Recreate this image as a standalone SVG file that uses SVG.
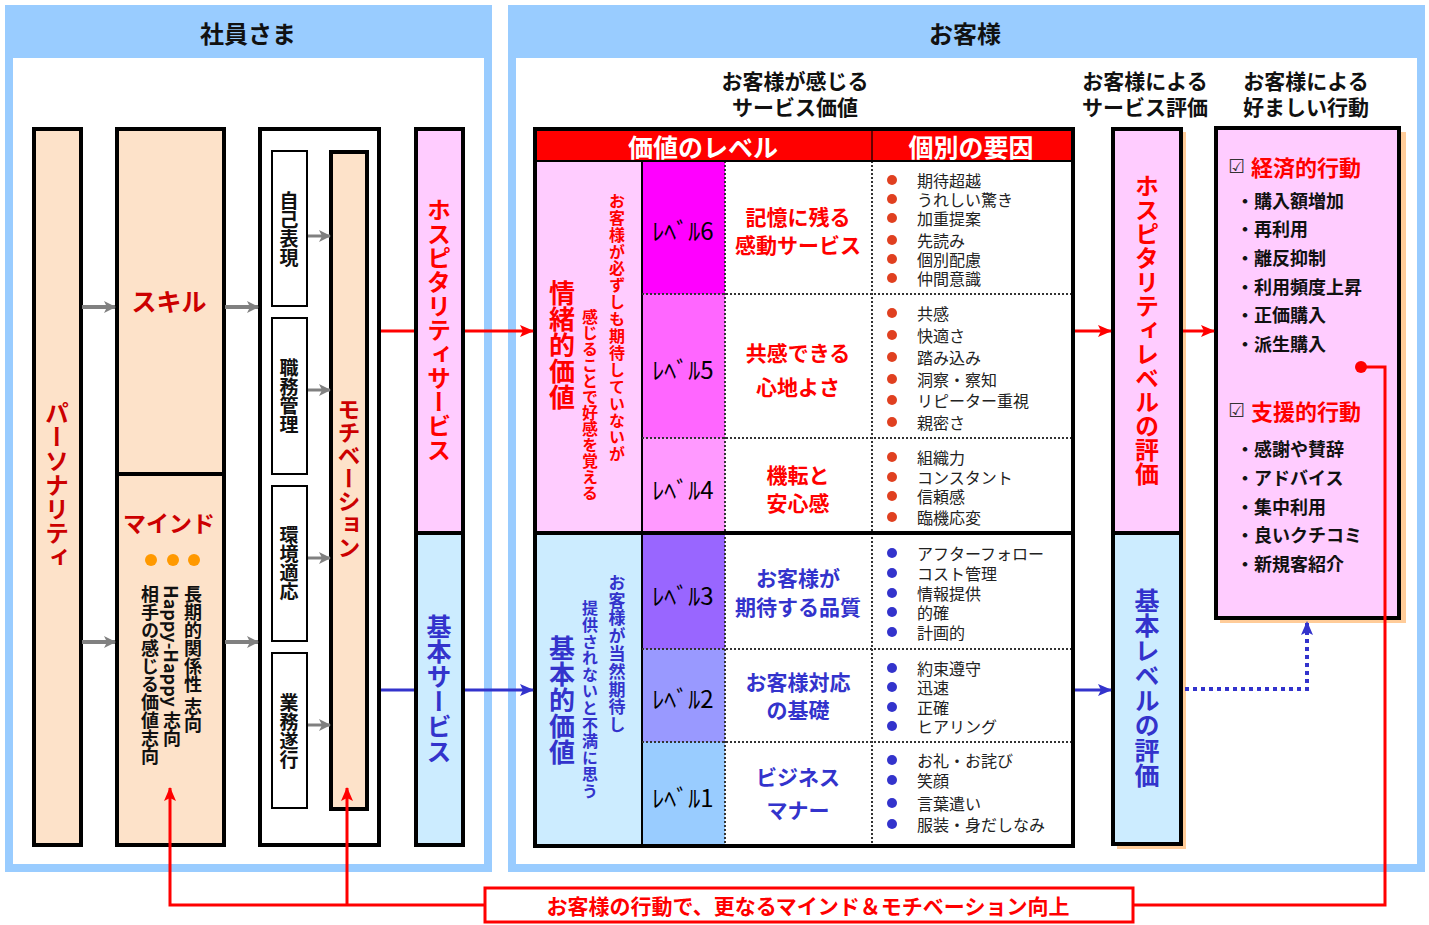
<svg xmlns="http://www.w3.org/2000/svg" width="1429" height="925" viewBox="0 0 1429 925">
<style>
text{font-family:"Noto Sans CJK JP","Noto Sans CJK SC",sans-serif;font-weight:bold;dominant-baseline:central}
.v{writing-mode:vertical-rl;text-anchor:middle}
.vs{writing-mode:vertical-rl;text-anchor:start}
.box{stroke:#000;stroke-width:4}
.thin{stroke:#000;stroke-width:2;fill:#fff}
.peach{fill:#FDE2C9}
.pink{fill:#FFCCFF}
.lblue{fill:#CCECFF}
.r{fill:#FF0000}
.dr{fill:#CC0000}
.b{fill:#3333CC}
.dot{stroke:#333;stroke-width:2;stroke-dasharray:2 2;fill:none}
.fac{font-weight:normal;fill:#222;font-size:16px}
.act{font-size:18px;fill:#111}
.desc{font-size:21px;text-anchor:middle}
.lv{font-size:24px;font-weight:normal;text-anchor:middle;fill:#000}
</style>
<defs>
<marker id="ag" markerWidth="12" markerHeight="12" refX="11" refY="6" orient="auto" markerUnits="userSpaceOnUse"><path d="M0,0 L12,6 L0,12 L3,6 Z" fill="#808080"/></marker>
<marker id="ar" markerWidth="14" markerHeight="12" refX="13" refY="6" orient="auto" markerUnits="userSpaceOnUse"><path d="M0,0 L14,6 L0,12 L3,6 Z" fill="#FF0000"/></marker>
<marker id="ab" markerWidth="14" markerHeight="12" refX="13" refY="6" orient="auto" markerUnits="userSpaceOnUse"><path d="M0,0 L14,6 L0,12 L3,6 Z" fill="#3333CC"/></marker>
</defs>

<!-- panels -->
<g id="panel-staff">
<rect x="5" y="5" width="487" height="867" fill="#99CCFF"/>
<rect x="13" y="58" width="471" height="806" fill="#fff"/>
<text x="248" y="32" font-size="24" text-anchor="middle" fill="#111">社員さま</text>
</g>
<g id="panel-customer">
<rect x="508" y="5" width="917" height="867" fill="#99CCFF"/>
<rect x="516" y="58" width="901" height="806" fill="#fff"/>
<text x="965" y="32" font-size="24" text-anchor="middle" fill="#111">お客様</text>
<text x="795" y="80" font-size="21" text-anchor="middle" fill="#111">お客様が感じる</text>
<text x="795" y="106" font-size="21" text-anchor="middle" fill="#111">サービス価値</text>
<text x="1145" y="80" font-size="21" text-anchor="middle" fill="#111">お客様による</text>
<text x="1145" y="106" font-size="21" text-anchor="middle" fill="#111">サービス評価</text>
<text x="1306" y="80" font-size="21" text-anchor="middle" fill="#111">お客様による</text>
<text x="1306" y="106" font-size="21" text-anchor="middle" fill="#111">好ましい行動</text>
</g>

<g id="personality">
<rect x="34" y="129" width="47" height="716" class="box peach"/>
<text x="57" y="485" font-size="24" class="v dr">パーソナリティ</text>
</g>

<g id="skill">
<rect x="117" y="129" width="107" height="345" class="box peach"/>
<text x="169" y="300" font-size="25" text-anchor="middle" class="dr">スキル</text>
</g>
<g id="mind">
<rect x="117" y="474" width="107" height="371" class="box peach"/>
<text x="169" y="522" font-size="23" text-anchor="middle" class="dr">マインド</text>
<circle cx="151" cy="560" r="6" fill="#FF9900"/>
<circle cx="173" cy="560" r="6" fill="#FF9900"/>
<circle cx="194" cy="560" r="6" fill="#FF9900"/>
<text x="193" y="585" font-size="18" class="vs" fill="#111">長期的関係性 志向</text>
<text x="172" y="585" font-size="18" class="vs" fill="#111">Happy-Happy 志向</text>
<text x="150" y="585" font-size="18" class="vs" fill="#111">相手の感じる価値志向</text>
</g>

<g id="work-frame">
<rect x="260" y="129" width="119" height="716" class="box" fill="#fff"/>
</g>
<g id="self-expression">
<rect x="272" y="151" width="35" height="155" class="thin"/>
<text x="289" y="229" font-size="19" class="v" fill="#111">自己表現</text>
</g>
<g id="job-management">
<rect x="272" y="318" width="35" height="156" class="thin"/>
<text x="289" y="396" font-size="19" class="v" fill="#111">職務管理</text>
</g>
<g id="env-adapt">
<rect x="272" y="486" width="35" height="155" class="thin"/>
<text x="289" y="563" font-size="19" class="v" fill="#111">環境適応</text>
</g>
<g id="task-exec">
<rect x="272" y="653" width="35" height="155" class="thin"/>
<text x="289" y="731" font-size="19" class="v" fill="#111">業務遂行</text>
</g>
<g id="motivation">
<rect x="331" y="152" width="36" height="657" class="box peach"/>
<text x="349" y="478" font-size="23" class="v dr">モチベーション</text>
</g>

<g id="hospitality-service">
<rect x="416" y="129" width="47" height="404" class="box pink"/>
<text x="439" y="330" font-size="24" class="v r">ホスピタリティサービス</text>
</g>
<g id="basic-service">
<rect x="416" y="533" width="47" height="312" class="box lblue"/>
<text x="439" y="689" font-size="25" class="v b">基本サービス</text>
</g>

<!-- table -->
<g id="value-table">
<rect x="535" y="129" width="538" height="32" fill="#FF0000"/>
<line x1="872" y1="129" x2="872" y2="161" stroke="#600" stroke-width="2"/>
<text x="703" y="146" font-size="25" text-anchor="middle" fill="#fff">価値のレベル</text>
<text x="971" y="146" font-size="25" text-anchor="middle" fill="#fff">個別の要因</text>
<rect x="535" y="161" width="107" height="372" class="pink"/>
<rect x="535" y="533" width="107" height="312" class="lblue"/>
<rect x="642" y="161" width="83" height="133" fill="#FF00FF"/>
<rect x="642" y="294" width="83" height="144" fill="#FF66FF"/>
<rect x="642" y="438" width="83" height="95" fill="#FF99FF"/>
<rect x="642" y="533" width="83" height="116" fill="#9966FF"/>
<rect x="642" y="649" width="83" height="93" fill="#9999FF"/>
<rect x="642" y="742" width="83" height="103" fill="#99CCFF"/>
<line x1="642" y1="161" x2="642" y2="845" stroke="#000" stroke-width="2"/>
<line x1="725" y1="161" x2="725" y2="845" class="dot"/>
<line x1="872" y1="161" x2="872" y2="845" class="dot"/>
<line x1="642" y1="294" x2="1072" y2="294" class="dot"/>
<line x1="642" y1="438" x2="1072" y2="438" class="dot"/>
<line x1="642" y1="649" x2="1072" y2="649" class="dot"/>
<line x1="642" y1="742" x2="1072" y2="742" class="dot"/>
<line x1="535" y1="533" x2="1073" y2="533" stroke="#000" stroke-width="4"/>
<line x1="535" y1="161" x2="1073" y2="161" stroke="#000" stroke-width="2"/>
<rect x="535" y="129" width="538" height="717" fill="none" stroke="#000" stroke-width="4"/>

<text x="562" y="345" font-size="26" class="v r">情緒的価値</text>
<text x="617" y="328" font-size="16" class="v r" letter-spacing="0.9">お客様が必ずしも期待していないが</text>
<text x="590" y="405" font-size="16" class="v r">感じることで好感を覚える</text>
<text x="562" y="700" font-size="26" class="v b">基本的価値</text>
<text x="617" y="654" font-size="17" class="v b" letter-spacing="0.8">お客様が当然期待し</text>
<text x="590" y="700" font-size="16" class="v b" letter-spacing="0.6">提供されないと不満に思う</text>

<text x="683" y="229" class="lv">ﾚﾍﾞﾙ6</text>
<text x="683" y="368" class="lv">ﾚﾍﾞﾙ5</text>
<text x="683" y="488" class="lv">ﾚﾍﾞﾙ4</text>
<text x="683" y="594" class="lv">ﾚﾍﾞﾙ3</text>
<text x="683" y="697" class="lv">ﾚﾍﾞﾙ2</text>
<text x="683" y="796" class="lv">ﾚﾍﾞﾙ1</text>

<text x="798" y="216" class="desc r">記憶に残る</text>
<text x="798" y="244" class="desc r">感動サービス</text>
<text x="798" y="352" class="desc r">共感できる</text>
<text x="798" y="386" class="desc r">心地よさ</text>
<text x="798" y="474" class="desc r">機転と</text>
<text x="798" y="502" class="desc r">安心感</text>
<text x="798" y="577" class="desc b">お客様が</text>
<text x="798" y="606" class="desc b">期待する品質</text>
<text x="798" y="681" class="desc b">お客様対応</text>
<text x="798" y="709" class="desc b">の基礎</text>
<text x="798" y="776" class="desc b">ビジネス</text>
<text x="798" y="809" class="desc b">マナー</text>

<g fill="#E04020">
<circle cx="892" cy="180" r="5"/><circle cx="892" cy="199" r="5"/><circle cx="892" cy="218" r="5"/><circle cx="892" cy="240" r="5"/><circle cx="892" cy="259" r="5"/><circle cx="892" cy="278" r="5"/>
<circle cx="892" cy="313" r="5"/><circle cx="892" cy="335" r="5"/><circle cx="892" cy="357" r="5"/><circle cx="892" cy="379" r="5"/><circle cx="892" cy="400" r="5"/><circle cx="892" cy="422" r="5"/>
<circle cx="892" cy="457" r="5"/><circle cx="892" cy="477" r="5"/><circle cx="892" cy="496" r="5"/><circle cx="892" cy="517" r="5"/>
</g>
<g fill="#3333CC">
<circle cx="892" cy="553" r="5"/><circle cx="892" cy="573" r="5"/><circle cx="892" cy="593" r="5"/><circle cx="892" cy="612" r="5"/><circle cx="892" cy="632" r="5"/>
<circle cx="892" cy="668" r="5"/><circle cx="892" cy="687" r="5"/><circle cx="892" cy="707" r="5"/><circle cx="892" cy="726" r="5"/>
<circle cx="892" cy="760" r="5"/><circle cx="892" cy="780" r="5"/><circle cx="892" cy="803" r="5"/><circle cx="892" cy="824" r="5"/>
</g>
<text x="917" y="180" class="fac">期待超越</text>
<text x="917" y="199" class="fac">うれしい驚き</text>
<text x="917" y="218" class="fac">加重提案</text>
<text x="917" y="240" class="fac">先読み</text>
<text x="917" y="259" class="fac">個別配慮</text>
<text x="917" y="278" class="fac">仲間意識</text>
<text x="917" y="313" class="fac">共感</text>
<text x="917" y="335" class="fac">快適さ</text>
<text x="917" y="357" class="fac">踏み込み</text>
<text x="917" y="379" class="fac">洞察・察知</text>
<text x="917" y="400" class="fac">リピーター重視</text>
<text x="917" y="422" class="fac">親密さ</text>
<text x="917" y="457" class="fac">組織力</text>
<text x="917" y="477" class="fac">コンスタント</text>
<text x="917" y="496" class="fac">信頼感</text>
<text x="917" y="517" class="fac">臨機応変</text>
<text x="917" y="553" class="fac">アフターフォロー</text>
<text x="917" y="573" class="fac">コスト管理</text>
<text x="917" y="593" class="fac">情報提供</text>
<text x="917" y="612" class="fac">的確</text>
<text x="917" y="632" class="fac">計画的</text>
<text x="917" y="668" class="fac">約束遵守</text>
<text x="917" y="687" class="fac">迅速</text>
<text x="917" y="707" class="fac">正確</text>
<text x="917" y="726" class="fac">ヒアリング</text>
<text x="917" y="760" class="fac">お礼・お詫び</text>
<text x="917" y="780" class="fac">笑顔</text>
<text x="917" y="803" class="fac">言葉遣い</text>
<text x="917" y="824" class="fac">服装・身だしなみ</text>
</g>

<g id="hospitality-eval">
<rect x="1117" y="132" width="69" height="406" fill="#FFCC99"/>
<rect x="1113" y="129" width="68" height="404" class="box pink"/>
<text x="1147" y="330" font-size="24" class="v r">ホスピタリティレベルの評価</text>
</g>
<g id="basic-eval">
<rect x="1117" y="537" width="69" height="312" fill="#FFCC99"/>
<rect x="1113" y="533" width="68" height="311" class="box lblue"/>
<text x="1147" y="688" font-size="25" class="v b">基本レベルの評価</text>
</g>

<g id="actions">
<rect x="1220" y="132" width="186" height="491" fill="#FFCC99"/>
<rect x="1216" y="128" width="183" height="490" class="box pink"/>
<text x="1228" y="166" font-size="22"><tspan fill="#333" font-family="DejaVu Sans" font-size="19" font-weight="bold">☑</tspan><tspan class="r" dx="6">経済的行動</tspan></text>
<text x="1236" y="200" class="act">・購入額増加</text>
<text x="1236" y="228" class="act">・再利用</text>
<text x="1236" y="257" class="act">・離反抑制</text>
<text x="1236" y="286" class="act">・利用頻度上昇</text>
<text x="1236" y="314" class="act">・正価購入</text>
<text x="1236" y="343" class="act">・派生購入</text>
<text x="1228" y="410" font-size="22"><tspan fill="#333" font-family="DejaVu Sans" font-size="19" font-weight="bold">☑</tspan><tspan class="r" dx="6">支援的行動</tspan></text>
<text x="1236" y="448" class="act">・感謝や賛辞</text>
<text x="1236" y="477" class="act">・アドバイス</text>
<text x="1236" y="506" class="act">・集中利用</text>
<text x="1236" y="534" class="act">・良いクチコミ</text>
<text x="1236" y="563" class="act">・新規客紹介</text>
</g>

<g id="feedback-box">
<rect x="485" y="888" width="648" height="34" fill="#fff" stroke="#FF0000" stroke-width="3"/>
<text x="808" y="905" font-size="21" text-anchor="middle" class="r">お客様の行動で、更なるマインド＆モチベーション向上</text>
</g>

<g id="connectors" fill="none">
<g stroke="#808080" stroke-width="4">
<line x1="82" y1="307" x2="115" y2="307" marker-end="url(#ag)"/>
<line x1="82" y1="642" x2="115" y2="642" marker-end="url(#ag)"/>
<line x1="225" y1="307" x2="258" y2="307" marker-end="url(#ag)"/>
<line x1="225" y1="642" x2="258" y2="642" marker-end="url(#ag)"/>
</g>
<g stroke="#808080" stroke-width="3">
<line x1="308" y1="236" x2="330" y2="236" marker-end="url(#ag)"/>
<line x1="308" y1="390" x2="330" y2="390" marker-end="url(#ag)"/>
<line x1="308" y1="558" x2="330" y2="558" marker-end="url(#ag)"/>
<line x1="308" y1="725" x2="330" y2="725" marker-end="url(#ag)"/>
</g>
<g stroke="#FF0000" stroke-width="3">
<line x1="381" y1="331" x2="414" y2="331"/>
<line x1="465" y1="331" x2="533" y2="331" marker-end="url(#ar)"/>
<line x1="1075" y1="331" x2="1111" y2="331" marker-end="url(#ar)"/>
<line x1="1183" y1="331" x2="1214" y2="331" marker-end="url(#ar)"/>
<path d="M1361,367 H1385 V905 H1134"/>
<path d="M484,905 H170 V788" marker-end="url(#ar)"/>
<path d="M347,905 V788" marker-end="url(#ar)"/>
</g>
<circle cx="1361" cy="367" r="6" fill="#FF0000"/>
<g stroke="#3333CC" stroke-width="3">
<line x1="381" y1="690" x2="414" y2="690"/>
<line x1="465" y1="690" x2="533" y2="690" marker-end="url(#ab)"/>
<line x1="1075" y1="690" x2="1111" y2="690" marker-end="url(#ab)"/>
</g>
<path d="M1185,689 H1307 V622" stroke="#3333CC" stroke-width="4" stroke-dasharray="4 4" marker-end="url(#ab)"/>
</g>
</svg>
